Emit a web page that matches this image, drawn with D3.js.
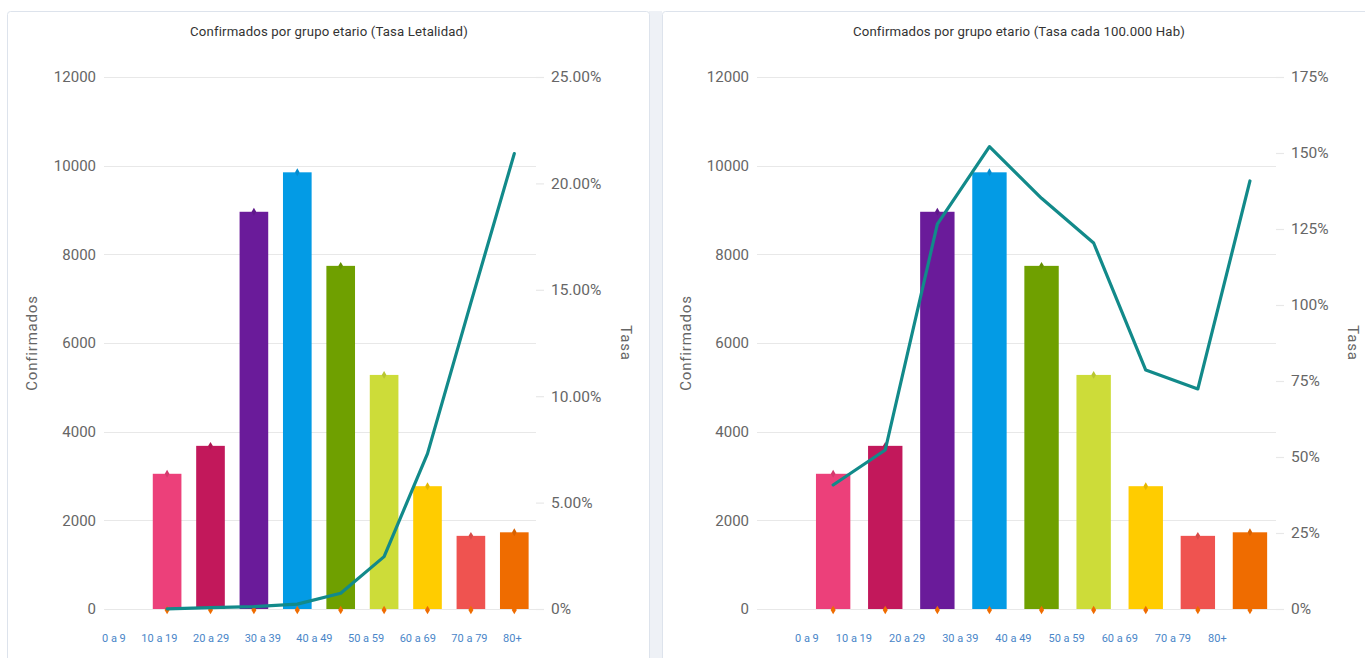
<!DOCTYPE html>
<html>
<head>
<meta charset="utf-8">
<script src="https://cdn.jsdelivr.net/npm/d3@7/dist/d3.min.js"></script>
<style>
  html, body { margin: 0; padding: 0; background: #ffffff; }
  svg { display: block; font-family: Roboto, "Noto Sans", sans-serif; }
</style>
</head>
<body>
<svg id="chart" width="1365" height="658"></svg>
<script>
// ---------- data ----------
const categories = ["0 a 9", "10 a 19", "20 a 29", "30 a 39", "40 a 49", "50 a 59", "60 a 69", "70 a 79", "80+"];
const confirmados = [3050, 3680, 8960, 9850, 7740, 5280, 2770, 1650, 1730];
const tasaLetalidad = [0.01, 0.06, 0.11, 0.23, 0.74, 2.46, 7.3, 14.4, 21.4];
const tasa100k = [40.8, 52.3, 126.6, 152.1, 135.1, 120.4, 78.6, 72.4, 140.8];
const baseSerie = [0, 0, 0, 0, 0, 0, 0, 0, 0];
const barColors = ["#ec407a", "#c2185b", "#6a1b9a", "#039be5", "#6fa000", "#cddc39", "#ffcc00", "#ef5350", "#ef6c00"];
const leftTicks = [0, 2000, 4000, 6000, 8000, 10000, 12000];
const rightTicksA = [0, 5, 10, 15, 20, 25];
const rightTicksB = [0, 25, 50, 75, 100, 125, 150, 175];
const titles = ["Confirmados por grupo etario (Tasa Letalidad)", "Confirmados por grupo etario (Tasa cada 100.000 Hab)"];

const svg = d3.select("#chart");

// page frame
svg.append("rect").attr("x", 0).attr("y", 0).attr("width", 1365).attr("height", 658).attr("fill", "#ffffff");
svg.append("rect").attr("x", 649).attr("y", 11).attr("width", 13).attr("height", 660).attr("fill", "#eef1f6");

function drawPanel(cfg) {
  const g = svg.append("g");
  g.append("rect")
    .attr("x", cfg.px + 0.5).attr("y", 11.5).attr("width", cfg.pw).attr("height", 660)
    .attr("rx", 3).attr("fill", "#ffffff").attr("stroke", "#dde3ec");

  g.append("text").attr("x", cfg.titleX).attr("y", 36).attr("text-anchor", "middle")
    .attr("font-size", 13.2).attr("letter-spacing", 0.15).attr("fill", "#333").text(cfg.title);

  const y = d3.scaleLinear().domain([0, 12000]).range([609, 77]);
  const y2 = d3.scaleLinear().domain([0, cfg.rMax]).range([609, 77]);
  const bandDomain = [""].concat(categories);
  const x = d3.scaleBand().domain(bandDomain).range([cfg.x0, cfg.x1]).paddingInner(0.34).paddingOuter(0.17);

  // grid
  g.append("g").selectAll("line").data(leftTicks).join("line")
    .attr("x1", cfg.x0 + 2).attr("x2", cfg.x1)
    .attr("y1", d => Math.round(y(d)) + 0.5).attr("y2", d => Math.round(y(d)) + 0.5)
    .attr("stroke", "#e8e8e8").attr("stroke-width", 1.2);

  // left axis
  const la = g.append("g").attr("transform", `translate(${cfg.x0 - 6},0)`)
    .call(d3.axisLeft(y).tickValues(leftTicks).tickSize(0).tickPadding(0).tickFormat(d3.format("d")));
  la.select(".domain").remove();
  la.selectAll("text").attr("font-size", 15).attr("fill", "#666").attr("font-family", "Roboto");

  // right axis
  const ra = g.append("g").attr("transform", `translate(${cfg.x1},0)`)
    .call(d3.axisRight(y2).tickValues(cfg.rTicks).tickSize(8).tickPadding(7).tickFormat(cfg.rFmt));
  ra.select(".domain").remove();
  ra.selectAll("line").attr("stroke", "#e8e8e8").attr("stroke-width", 1.2);
  ra.selectAll("text").attr("font-size", 15.5).attr("fill", "#666").attr("font-family", "Roboto");

  // axis titles
  g.append("text").attr("transform", `translate(${cfg.ltX},343) rotate(-90)`)
    .attr("text-anchor", "middle").attr("font-size", 15).attr("letter-spacing", 0.8)
    .attr("fill", "#666").text("Confirmados");
  g.append("text").attr("transform", `translate(${cfg.rtX},343) rotate(90)`)
    .attr("text-anchor", "middle").attr("font-size", 15).attr("letter-spacing", 0.8)
    .attr("fill", "#666").text("Tasa");

  // bars
  const bw = x.bandwidth();
  g.append("g").selectAll("rect").data(confirmados).join("rect")
    .attr("x", (d, i) => x(categories[i]))
    .attr("y", d => y(d))
    .attr("width", bw)
    .attr("height", d => y(0) - y(d))
    .attr("fill", (d, i) => barColors[i]);

  // small markers on top of bars
  const diamond = d3.symbol().type(d3.symbolDiamond).size(18);
  g.append("g").selectAll("path").data(confirmados).join("path")
    .attr("d", diamond)
    .attr("transform", (d, i) => `translate(${x(categories[i]) + bw / 2},${y(d)})`)
    .attr("fill", (d, i) => d3.color(barColors[i]).darker(0.3));

  // baseline orange diamonds
  g.append("g").selectAll("path").data(baseSerie).join("path")
    .attr("d", d3.symbol().type(d3.symbolDiamond).size(22))
    .attr("transform", (d, i) => `translate(${x(categories[i]) + bw / 2},${y(d) + 1})`)
    .attr("fill", "#ef6c00");

  // line
  const line = d3.line()
    .x((d, i) => x(categories[i]) + bw / 2)
    .y(d => y2(d));
  g.append("path").datum(cfg.rate).attr("d", line)
    .attr("fill", "none").attr("stroke", "#128a8a").attr("stroke-width", 3.2)
    .attr("stroke-linejoin", "round").attr("stroke-linecap", "round");

  // x labels (flow layout below chart)
  const lg = g.append("g");
  let cx = cfg.lblStart;
  categories.forEach(c => {
    const t = lg.append("text").attr("x", cx).attr("y", 642)
      .attr("font-size", 11).attr("fill", "#4a86c8").text(c);
    cx += t.node().getComputedTextLength() + cfg.lblGap;
  });
}

drawPanel({
  px: 7, pw: 642, title: titles[0], titleX: 329,
  x0: 102, x1: 536, rMax: 25, rTicks: rightTicksA,
  rFmt: d => d === 0 ? "0%" : d3.format(".2f")(d) + "%",
  rate: tasaLetalidad, ltX: 37, rtX: 621, lblStart: 102, lblGap: 15.5
});
drawPanel({
  px: 662, pw: 710, title: titles[1], titleX: 1019,
  x0: 755, x1: 1276, rMax: 175, rTicks: rightTicksB,
  rFmt: d => d + "%",
  rate: tasa100k, ltX: 691, rtX: 1348, lblStart: 795, lblGap: 17
});
</script>
</body>
</html>
